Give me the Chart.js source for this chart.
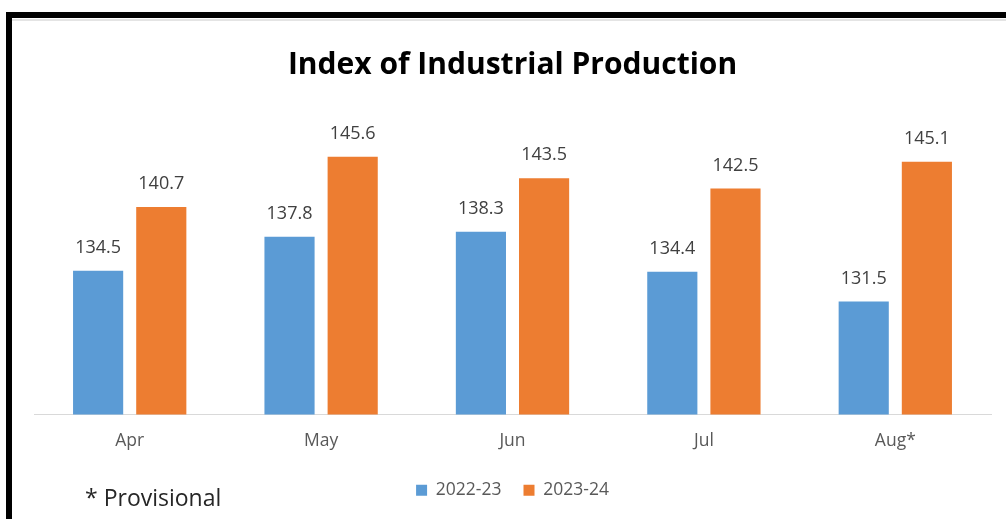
<!DOCTYPE html>
<html>
<head>
<meta charset="utf-8">
<script src="https://cdn.jsdelivr.net/npm/chart.js@4"></script>
<style>
	html, body { margin: 0; padding: 0; background: #fff; }
	#wrap { position: relative; width: 1006px; height: 519px; overflow: hidden; }
	#frame { position: absolute; left: 6px; top: 12px; right: -10px; bottom: -10px; border-top: 6px solid #000; border-left: 6px solid #000; }
	#inner { position: absolute; left: 12px; top: 19px; right: 0; height: 0; border-top: 2px solid #e4e4e4; }
	#note { position: absolute; left: 85px; top: 481px; font: 23px "Open Sans", sans-serif; color: #262626; }
	canvas { position: absolute; left: 0; top: 0; }
</style>
</head>
<body>
<div id="wrap">
	<canvas id="iip_chart" width="1006" height="519"></canvas>
	<div id="frame"></div>
	<div id="inner"></div>
	<div id="note">* Provisional</div>
</div>
<script>
const months = ['Apr', 'May', 'Jun', 'Jul', 'Aug*'];
const iip_2022 = [134.5, 137.8, 138.3, 134.4, 131.5];
const iip_2023 = [140.7, 145.6, 143.5, 142.5, 145.1];

// value labels above every bar
const barLabels = {
	id: 'barLabels',
	afterDatasetsDraw(chart) {
		const ctx = chart.ctx;
		ctx.save();
		ctx.font = '18px "Open Sans", sans-serif';
		ctx.fillStyle = '#404040';
		ctx.textAlign = 'center';
		ctx.textBaseline = 'bottom';
		chart.data.datasets.forEach((ds, i) => {
			chart.getDatasetMeta(i).data.forEach((bar, j) => {
				ctx.fillText(ds.data[j].toFixed(1), bar.x, bar.y - 14);
			});
		});
		ctx.restore();
	}
};

window.onload = function() {
	new Chart(document.getElementById('iip_chart'), {
		type: 'bar',
		data: {
			labels: months,
			datasets: [{
				label: '2022-23',
				backgroundColor: '#5b9bd5',
				data: iip_2022
			}, {
				label: '2023-24',
				backgroundColor: '#ed7d31',
				data: iip_2023
			}]
		},
		options: {
			responsive: false,
			animation: false,
			categoryPercentage: 0.66,
			barPercentage: 0.794,
			layout: { padding: { left: 34, right: 15, bottom: 10 } },
			scales: {
				x: {
					grid: { display: false, drawTicks: false },
					border: { display: true, color: '#d9d9d9', width: 1 },
					ticks: { color: '#595959', padding: 16, font: { family: 'Open Sans', size: 17.5 } },
					afterFit: scale => { scale.height = 45; }
				},
				y: {
					display: false,
					min: 120.5,
					max: 150
				}
			},
			plugins: {
				title: {
					display: true,
					text: 'Index of Industrial Production',
					color: '#000',
					font: { family: 'Open Sans', size: 30, weight: 'bold' },
					padding: { top: 47, bottom: 28.5 }
				},
				legend: {
					position: 'bottom',
					labels: {
						boxWidth: 11,
						boxHeight: 11,
						padding: 22,
						color: '#595959',
						font: { family: 'Open Sans', size: 17.5 }
					}
				},
				tooltip: { enabled: false }
			}
		},
		plugins: [barLabels]
	});
};
</script>
</body>
</html>
